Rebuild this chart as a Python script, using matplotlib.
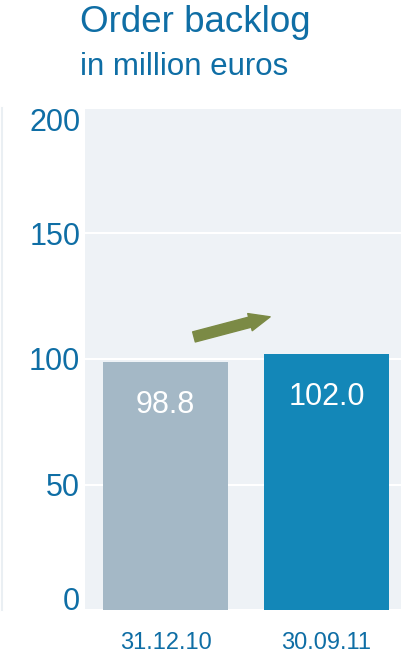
import matplotlib.pyplot as plt
from matplotlib.lines import Line2D

plt.rcParams['font.family'] = ['Liberation Sans', 'DejaVu Sans']

categories = ['31.12.10', '30.09.11']
values = [98.8, 102.0]
colors = ['#a4b8c6', '#1387b8']
yticks = [0, 50, 100, 150, 200]

blue = '#0f6ea5'

fig = plt.figure(figsize=(4.01, 6.56), dpi=100)
ax = fig.add_axes([85 / 401, 46 / 656, 316 / 401, 502 / 656])
ax.set_facecolor('#eef2f6')

x = range(len(categories))
bars = ax.bar(x, values, width=0.776, color=colors, zorder=2)

for i, v in enumerate(values):
    ax.text(i, v - 17, f'{v:.1f}', ha='center', va='center',
            color='white', fontsize=22, zorder=3)

ax.set_xlim(-0.5, 1.463)
ax.set_ylim(0, 200)
ax.set_yticks(yticks)
ax.set_yticklabels([str(t) for t in yticks])
ax.set_xticks(list(x))
ax.set_xticklabels(categories)
ax.tick_params(axis='y', length=0, pad=3.5, labelsize=22, labelcolor=blue)
ax.tick_params(axis='x', length=0, pad=16, labelsize=17, labelcolor=blue)
ylabels = ax.get_yticklabels()
ylabels[0].set_va('baseline')
ylabels[-1].set_va('top')

ax.yaxis.grid(True, color='white', linewidth=1.5, zorder=1)
ax.set_axisbelow(True)
for s in ax.spines.values():
    s.set_visible(False)

# trend arrow between the bars
ax.annotate('', xy=(0.65, 116.8), xytext=(0.177, 108.8),
            arrowprops=dict(arrowstyle='simple,head_width=0.85,head_length=1.0,tail_width=0.5',
                            color='#7b8a45', mutation_scale=15, shrinkA=0, shrinkB=0),
            zorder=4)

fig.text(80 / 401, 1 - 22 / 656, 'Order backlog', fontsize=26.5, color=blue,
         ha='left', va='center')
fig.text(80 / 401, 1 - 67 / 656, 'in million euros', fontsize=22.5, color=blue,
         ha='left', va='center')

fig.add_artist(Line2D([2 / 401, 2 / 401], [46 / 656, 548 / 656],
                      color='#eaeff3', linewidth=1.5))

fig.savefig('out.png', dpi=100)
